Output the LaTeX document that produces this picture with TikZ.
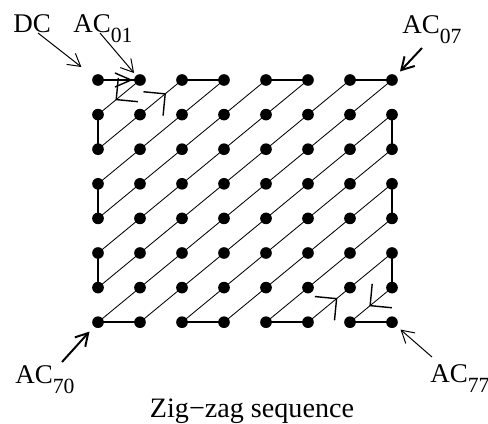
\documentclass[tikz,border=0pt]{standalone}
\usepackage{fontspec}
\setmainfont{Liberation Serif}
\usetikzlibrary{arrows.meta,decorations.markings}
\newcommand{\acterm}[1]{AC\raisebox{-7.8pt}{\fontsize{15.4}{16}\selectfont #1}}

\begin{document}
\begin{tikzpicture}[x=0.025cm,y=-0.025cm,
  scanmark/.style 2 args={postaction={decorate}, decoration={markings, mark=at position #1 with {\arrow{#2}}}}]
  \tikzset{cornerhead/.tip={Straight Barb[angle=90:15.5pt, line width=1pt]},
    openhead/.tip={Straight Barb[angle=47:12.5pt, line width=1pt]}}
  \tikzstyle{dot}=[circle, fill=black, inner sep=0pt, minimum size=8.3pt]
  \tikzstyle{link}=[line width=1.4pt, black]
  \tikzstyle{diag}=[line width=0.6pt, black]
  \tikzstyle{pointer}=[-{Straight Barb[angle=60:10pt]}, line width=0.7pt]
  \tikzstyle{boldpointer}=[pointer, line width=1.4pt]
  \tikzstyle{labeltext}=[anchor=base west, inner sep=0pt, font=\fontsize{19.2}{23}\selectfont]
  \tikzstyle{captiontext}=[anchor=base, inner sep=0pt, font=\fontsize{20}{24}\selectfont]

  \path[use as bounding box] (0,0) rectangle (488,423);

  \foreach \r in {0,...,7} {
    \foreach \c in {0,...,7} {
      \node[dot] (p\r\c) at ({98+42*\c},{80+34.6*\r}) {};
    }
  }

  \foreach \a/\b in {02/03,04/05,06/07,10/20,30/40,50/60,17/27,37/47,57/67,70/71,72/73,74/75,76/77} {
    \draw[link] (p\a.center) -- (p\b.center);
  }
  \draw[link, scanmark={0.83}{openhead}] (p00.center) -- (p01.center);

  \foreach \a/\b in {03/30,40/04,05/50,60/06,07/70,71/17,27/72,73/37,47/74} {
    \draw[diag] (p\a.center) -- (p\b.center);
  }
  \draw[diag, scanmark={0.585}{cornerhead}] (p01.center) -- (p10.center);
  \draw[diag, scanmark={0.81}{cornerhead}] (p20.center) -- (p02.center);
  \draw[diag, scanmark={0.35}{cornerhead}] (p75.center) -- (p57.center);
  \draw[diag, scanmark={0.54}{cornerhead}] (p67.center) -- (p76.center);

  \node[labeltext] (dc) at (13,32) {DC};
  \node[labeltext] (ac01) at (73,32) {\acterm{01}};
  \node[labeltext] (ac07) at (402,33) {\acterm{07}};
  \node[labeltext] (ac70) at (15,383) {\acterm{70}};
  \node[labeltext] (ac77) at (430,382) {\acterm{77}};
  \node[captiontext] (caption) at (252,417) {Zig−zag sequence};

  \coordinate (dctail) at (38,33);
  \coordinate (acotail) at (100,33);
  \coordinate (acstail) at (422,48);
  \coordinate (acttail) at (62,362);
  \coordinate (acltail) at (432,357);
  \draw[pointer, shorten >=15pt] (dctail) -- (p00.center);
  \draw[pointer, shorten >=6.5pt] (acotail) -- (p01.center);
  \draw[boldpointer, shorten >=8.3pt] (acstail) -- (p07.center);
  \draw[boldpointer, shorten >=9pt] (acttail) -- (p70.center);
  \draw[pointer, shorten >=8pt] (acltail) -- (p77.center);
\end{tikzpicture}
\end{document}
